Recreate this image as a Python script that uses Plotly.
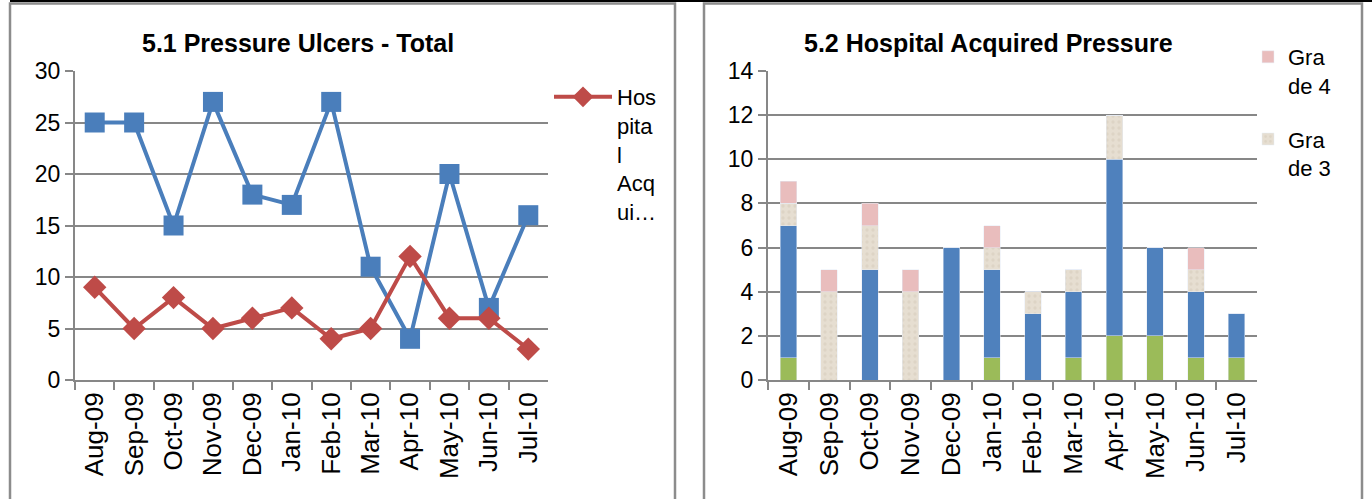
import plotly.graph_objects as go

months = ["Aug-09", "Sep-09", "Oct-09", "Nov-09", "Dec-09", "Jan-10",
          "Feb-10", "Mar-10", "Apr-10", "May-10", "Jun-10", "Jul-10"]

# 5.1 Pressure Ulcers - Total
total_ulcers = [25, 25, 15, 27, 18, 17, 27, 11, 4, 20, 7, 16]
hospital_acquired = [9, 5, 8, 5, 6, 7, 4, 5, 12, 6, 6, 3]

# 5.2 Hospital Acquired Pressure (stacked by grade)
grade1 = [1, 0, 0, 0, 0, 1, 0, 1, 2, 2, 1, 1]
grade2 = [6, 0, 5, 0, 6, 4, 3, 3, 8, 4, 3, 2]
grade3 = [1, 4, 2, 4, 0, 1, 1, 1, 2, 0, 1, 0]
grade4 = [1, 1, 1, 1, 0, 1, 0, 0, 0, 0, 1, 0]

W, H = 1372, 499
FONT = "Liberation Sans, Arial, sans-serif"
GRID = "#878787"

def px(x):
    return x / W

def py(y):
    return 1 - y / H

fig = go.Figure()

fig.add_trace(go.Scatter(
    x=months, y=total_ulcers, name="Total", mode="lines+markers",
    line=dict(color="#4A7EBB", width=4),
    marker=dict(symbol="square", size=20, color="#4A7EBB"),
    xaxis="x", yaxis="y", showlegend=False))
fig.add_trace(go.Scatter(
    x=months, y=hospital_acquired, name="Hos<br>pita<br>l<br>Acq<br>ui…",
    mode="lines+markers",
    line=dict(color="#BE4B48", width=4),
    marker=dict(symbol="diamond", size=18, color="#BE4B48"),
    xaxis="x", yaxis="y", legend="legend"))

fig.add_trace(go.Bar(x=months, y=grade1, name="Grade 1", marker_color="#9BBB59",
                     xaxis="x2", yaxis="y2", showlegend=False))
fig.add_trace(go.Bar(x=months, y=grade2, name="Grade 2", marker_color="#4F81BD",
                     xaxis="x2", yaxis="y2", showlegend=False))
fig.add_trace(go.Bar(x=months, y=grade3, name="Gra<br>de 3", legendgroup="g3",
                     legendrank=2,
                     marker=dict(color="#E6DED1",
                                 pattern=dict(shape=".", fgcolor="#D3CABA",
                                              bgcolor="#E6DED1", size=6, solidity=0.25)),
                     xaxis="x2", yaxis="y2", legend="legend2"))
fig.add_trace(go.Bar(x=months, y=grade4, name="Gra<br>de 4", legendgroup="g4",
                     legendrank=1, marker_color="#E9BDBD",
                     xaxis="x2", yaxis="y2", legend="legend2"))

yb, yt = py(380), py(71)
axis_common = dict(showline=True, linecolor=GRID, linewidth=2, automargin=False,
                   ticks="outside", tickcolor=GRID, ticklen=8, tickwidth=2)
xfont = dict(family=FONT, size=26, color="#000")
yfont = dict(family=FONT, size=23, color="#000")

fig.update_layout(
    width=W, height=H, margin=dict(l=0, r=0, t=0, b=0, autoexpand=False),
    paper_bgcolor="white", plot_bgcolor="white",
    barmode="stack", bargap=0.6,
    font=dict(family=FONT, color="#000"),
    xaxis=dict(domain=[px(75), px(548)], anchor="y", type="category",
               range=[-0.5, 11.5], tickangle=-90, tickson="boundaries",
               showgrid=False, tickfont=xfont, **axis_common),
    yaxis=dict(domain=[yb, yt], anchor="x", range=[0, 30], dtick=5,
               showgrid=True, gridcolor=GRID, gridwidth=2, zeroline=False,
               tickfont=yfont, **axis_common),
    xaxis2=dict(domain=[px(768), px(1257)], anchor="y2", type="category",
                range=[-0.5, 11.5], tickangle=-90, tickson="boundaries",
                showgrid=False, tickfont=xfont, **axis_common),
    yaxis2=dict(domain=[yb, yt], anchor="x2", range=[0, 14], dtick=2,
                showgrid=True, gridcolor=GRID, gridwidth=2, zeroline=False,
                tickfont=yfont, **axis_common),
    legend=dict(x=px(549), y=py(76), xanchor="left", yanchor="top",
                valign="top", font=dict(family=FONT, size=22),
                bgcolor="rgba(0,0,0,0)", itemwidth=58),
    legend2=dict(x=px(1248), y=py(36), xanchor="left", yanchor="top",
                 valign="top", traceorder="grouped",
                 font=dict(family=FONT, size=22), tracegroupgap=22,
                 bgcolor="rgba(0,0,0,0)", itemwidth=30),
    annotations=[
        dict(text="<b>5.1 Pressure Ulcers - Total</b>", x=px(298), y=py(43),
             xref="paper", yref="paper", xanchor="center", yanchor="middle",
             showarrow=False, font=dict(family=FONT, size=25, color="#000")),
        dict(text="<b>5.2 Hospital Acquired Pressure</b>", x=px(988), y=py(43),
             xref="paper", yref="paper", xanchor="center", yanchor="middle",
             showarrow=False, font=dict(family=FONT, size=25, color="#000")),
    ],
    shapes=[
        dict(type="line", xref="paper", yref="paper", x0=px(10), x1=1, y0=py(1), y1=py(1),
             line=dict(color="#000", width=2)),
        dict(type="rect", xref="paper", yref="paper", x0=px(10), x1=px(675),
             y0=py(3.5), y1=py(505), line=dict(color="#8C8C8C", width=2.5)),
        dict(type="rect", xref="paper", yref="paper", x0=px(704), x1=px(1362),
             y0=py(3.5), y1=py(505), line=dict(color="#8C8C8C", width=2.5)),
    ],
)

fig.write_html("out.html", config={"displayModeBar": False},
               post_script="document.body.style.margin='0';")
